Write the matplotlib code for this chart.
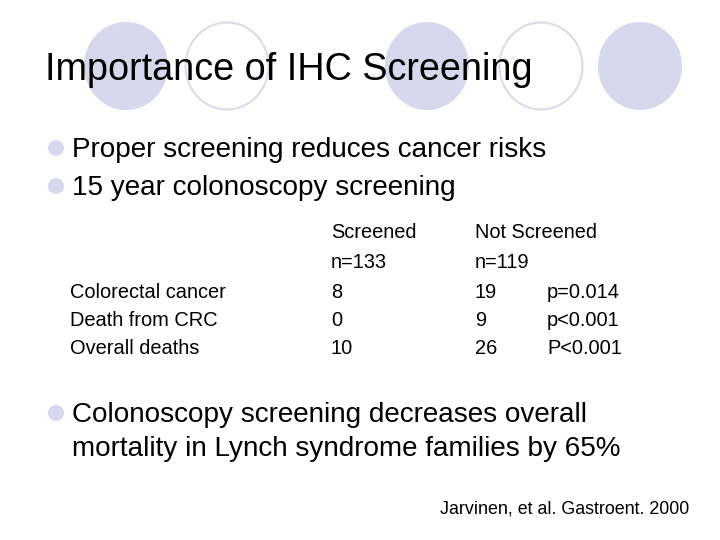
import matplotlib
matplotlib.use("Agg")
import matplotlib.pyplot as plt
from matplotlib.patches import Ellipse, Circle

plt.rcParams["font.family"] = ["Liberation Sans", "DejaVu Sans"]

# Slide content
title = "Importance of IHC Screening"
bullets_top = ["Proper screening reduces cancer risks",
               "15 year colonoscopy screening"]
col_headers = ["Screened", "Not Screened"]
group_sizes = ["n=133", "n=119"]
row_labels = ["Colorectal cancer", "Death from CRC", "Overall deaths"]
screened = [8, 0, 10]
not_screened = [19, 9, 26]
p_values = ["p=0.014", "p<0.001", "P<0.001"]
bullet_bottom = ["Colonoscopy screening decreases overall",
                 "mortality in Lynch syndrome families by 65%"]
citation = "Jarvinen, et al. Gastroent. 2000"

LAV = "#d7d7ee"
LAV_EDGE = "#dcdcea"

fig = plt.figure(figsize=(7.2, 5.4), dpi=100)
ax = fig.add_axes([0, 0, 1, 1])
ax.set_xlim(0, 720)
ax.set_ylim(540, 0)
ax.axis("off")

# decorative circles behind the title (filled / outline alternating)
circles = [(126, 66, True), (227, 66, False), (427, 66, True),
           (541, 66, False), (640, 66, True)]
for cx, cy, filled in circles:
    if filled:
        ax.add_patch(Ellipse((cx, cy), 84, 88, facecolor=LAV, edgecolor="none"))
    else:
        ax.add_patch(Ellipse((cx, cy), 83, 87, facecolor="none",
                             edgecolor=LAV_EDGE, linewidth=1.6))

ax.text(45, 70, title, fontsize=27.2, va="center", ha="left", color="black")


def bullet(y):
    ax.add_patch(Circle((56, y), 8, facecolor=LAV, edgecolor="none"))


for i, txt in enumerate(bullets_top):
    y = 148 + i * 38
    bullet(y)
    ax.text(72, y + 2, txt, fontsize=20.1, va="center", ha="left")

# table
fs = 14.4
ax.text(331, 232, col_headers[0], fontsize=fs, va="center")
ax.text(475, 232, col_headers[1], fontsize=fs, va="center")
ax.text(331, 263, group_sizes[0], fontsize=fs, va="center")
ax.text(475, 263, group_sizes[1], fontsize=fs, va="center")
row_y = [292, 321, 349]
for y, lab, s, n, p in zip(row_y, row_labels, screened, not_screened, p_values):
    ax.text(70, y, lab, fontsize=fs, va="center")
    ax.text(331, y, str(s), fontsize=fs, va="center")
    ax.text(475, y, str(n), fontsize=fs, va="center")
    ax.text(547, y, p, fontsize=fs, va="center")

bullet(413)
ax.text(72, 415, bullet_bottom[0], fontsize=20.1, va="center")
ax.text(72, 449, bullet_bottom[1], fontsize=20.1, va="center")

ax.text(440, 509, citation, fontsize=12.85, va="center")

fig.savefig("out.png", dpi=100)
